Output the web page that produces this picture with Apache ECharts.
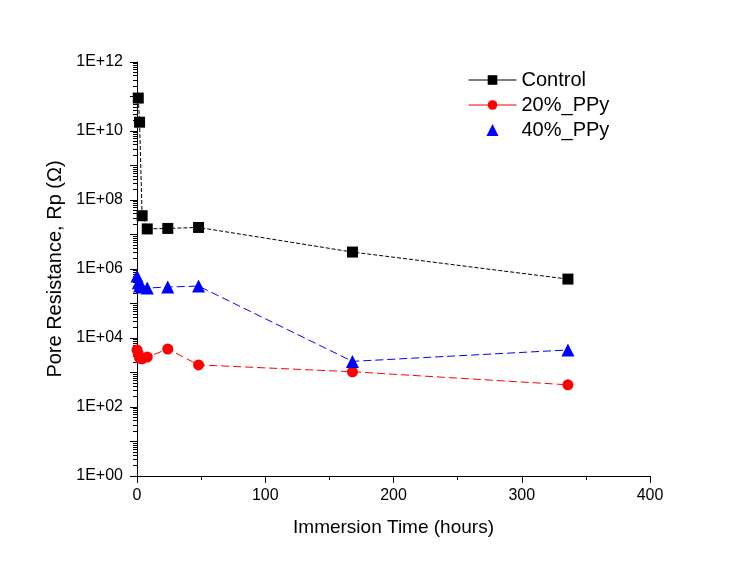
<!DOCTYPE html>
<html><head><meta charset="utf-8">
<script src="https://cdn.jsdelivr.net/npm/echarts@6/dist/echarts.min.js"></script>
<style>html,body{margin:0;padding:0;background:#fff}#c{width:738px;height:565px}</style>
</head><body><div id="c"></div>
<script>
const controlTime = [1, 2, 4, 8, 24, 48, 168, 336];
const controlRp = [9e10, 1.8e10, 3.5e7, 1.45e7, 1.5e7, 1.6e7, 3.1e6, 5.1e5];
const ppy20Time = [0, 1, 2, 4, 8, 24, 48, 168, 336];
const ppy20Rp = [4.5e3, 3.5e3, 2.6e3, 2.5e3, 2.8e3, 4.8e3, 1.66e3, 1.05e3, 440];
const ppy40Time = [0, 1, 2, 4, 8, 24, 48, 168, 336];
const ppy40Rp = [6.3e5, 4.0e5, 3.2e5, 3.0e5, 2.8e5, 3.0e5, 3.2e5, 2.1e3, 4.5e3];
const seriesNames = ['Control', '20%_PPy', '40%_PPy'];
const xTicks = [0, 100, 200, 300, 400];

const pair = (t, v) => t.map((x, i) => [x, v[i]]);
const font = 'Liberation Sans, Arial, sans-serif';
const chart = echarts.init(document.getElementById('c'), null, {renderer: 'canvas'});
chart.setOption({
  animation: false,
  backgroundColor: '#ffffff',
  grid: {left: 137, right: 88, top: 62, bottom: 89},
  legend: {
    left: 463, top: 65, orient: 'vertical', itemGap: 5, itemWidth: 48, itemHeight: 12,
    lineStyle: {type: 'solid', width: 1},
    textStyle: {fontFamily: font, fontSize: 20, color: '#000'},
    data: [{name: seriesNames[0]}, {name: seriesNames[1]}, {name: seriesNames[2], icon: 'path://M0,10 L5,0 L10,10 Z'}]
  },
  xAxis: {
    type: 'value', min: 0, max: 400, interval: 100,
    name: 'Immersion Time (hours)', nameLocation: 'middle', nameGap: 42,
    nameTextStyle: {fontFamily: font, fontSize: 19, color: '#000'},
    axisLine: {lineStyle: {color: '#000', width: 1}},
    axisTick: {inside: false, length: 7, lineStyle: {color: '#000'}},
    minorTick: {show: true, splitNumber: 2, length: 4, lineStyle: {color: '#000'}},
    splitLine: {show: false},
    axisLabel: {fontFamily: font, fontSize: 16, color: '#000', margin: 12,
      formatter: v => xTicks.includes(v) ? String(v) : ''}
  },
  yAxis: {
    type: 'log', logBase: 10, min: 1, max: 1e12, interval: 1,
    name: 'Pore Resistance, Rp (\u03A9)', nameLocation: 'middle', nameGap: 64, nameRotate: 90,
    nameTextStyle: {fontFamily: font, fontSize: 20, color: '#000'},
    axisLine: {show: true, lineStyle: {color: '#000', width: 1}},
    axisTick: {inside: false, length: 7, lineStyle: {color: '#000'}},
    minorTick: {show: true, splitNumber: 9, length: 4, lineStyle: {color: '#000'}},
    splitLine: {show: false},
    axisLabel: {fontFamily: font, fontSize: 16, color: '#000', margin: 14,
      formatter: v => {
        const e = Math.round(Math.log10(v));
        if (e % 2 !== 0) return '';
        return '1E+' + (e < 10 ? '0' + e : e);
      }}
  },
  series: [
    {name: seriesNames[0], type: 'line', data: pair(controlTime, controlRp),
     symbol: 'rect', symbolSize: 11, color: '#000',
     lineStyle: {color: '#000', width: 1, type: [4, 2]}},
    {name: seriesNames[1], type: 'line', data: pair(ppy20Time, ppy20Rp),
     symbol: 'circle', symbolSize: 11, color: '#ff0000',
     lineStyle: {color: '#ff0000', width: 1, type: [8, 4]}},
    {name: seriesNames[2], type: 'line', data: pair(ppy40Time, ppy40Rp),
     symbol: 'triangle', symbolSize: 13, color: '#0000ff',
     lineStyle: {color: '#0000ff', width: 1, type: [8, 4]}}
  ]
});
</script></body></html>
